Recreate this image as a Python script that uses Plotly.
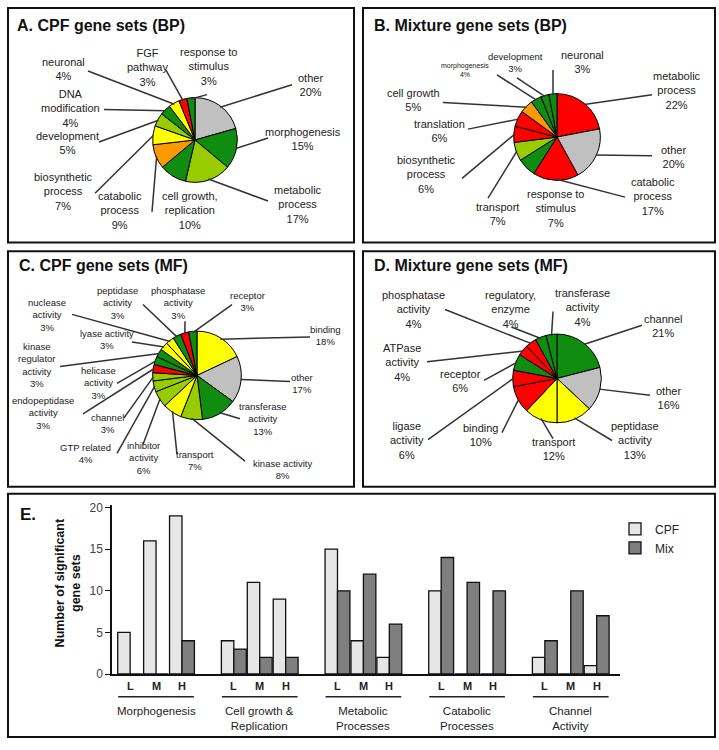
import math
import plotly.graph_objects as go

W, H = 719, 750

# ---------------- data ----------------
GRAY, DKG, YG, YEL, ORG, RED = "#c0c0c0", "#108c10", "#99cc00", "#ffff00", "#ff9900", "#ff0000"

a_labels = ["other", "morphogenesis", "metabolic process", "cell growth, replication",
            "catabolic process", "biosynthetic process", "development", "DNA modification",
            "neuronal", "FGF pathway", "response to stimulus"]
a_values = [20, 15, 17, 10, 9, 7, 5, 4, 4, 3, 3]
a_colors = [GRAY, DKG, YG, DKG, ORG, YEL, YG, DKG, YEL, RED, DKG]

b_labels = ["metabolic process", "other", "catabolic process", "response to stimulus",
            "transport", "biosynthetic process", "translation", "cell growth",
            "morphogenesis", "development", "neuronal"]
b_values = [22, 20, 17, 7, 7, 6, 6, 5, 4, 3, 3]
b_colors = [RED, GRAY, RED, DKG, YG, RED, RED, ORG, DKG, DKG, DKG]

c_labels = ["binding", "other", "transferase activity", "kinase activity", "transport",
            "inhibitor activity", "GTP related", "channel", "endopeptidase activity",
            "helicase activity", "kinase regulator activity", "lyase activity",
            "nuclease activity", "peptidase activity", "phosphatase activity", "receptor"]
c_values = [18, 17, 13, 8, 7, 6, 4, 3, 3, 3, 3, 3, 3, 3, 3, 3]
c_colors = [YEL, GRAY, DKG, YG, YEL, YG, YG, YG, RED, DKG, DKG, YEL, YEL, DKG, RED, DKG]

d_labels = ["channel", "other", "peptidase activity", "transport", "binding",
            "ligase activity", "receptor", "ATPase activity", "phosphatase activity",
            "regulatory, enzyme", "transferase activity"]
d_values = [21, 16, 13, 12, 10, 6, 6, 4, 4, 4, 4]
d_colors = [DKG, GRAY, YEL, YEL, RED, RED, DKG, RED, RED, DKG, DKG]

e_categories = ["Morphogenesis", "Cell growth &<br>Replication", "Metabolic<br>Processes",
                "Catabolic<br>Processes", "Channel<br>Activity"]
e_levels = ["L", "M", "H"]
e_cpf = [5, 16, 19, 4, 11, 9, 15, 4, 2, 10, 0, 0, 2, 0, 1]
e_mix = [0, 0, 4, 3, 2, 2, 10, 12, 6, 14, 11, 10, 4, 10, 7]

# ---------------- layout helpers ----------------
def PX(x):
    return x / W

def PY(y):
    return 1 - y / H

FONT = "Liberation Sans, Arial, sans-serif"

# label layout: (wrapped text, text centre px, line start px or None, font size)
a_layout = [
    ("other", (310, 82), (292, 82), 11),
    ("morphogenesis", (303, 137), (268, 136), 11),
    ("metabolic<br>process", (298, 203), (268, 200), 11),
    ("cell growth,<br>replication", (190, 210), None, 11),
    ("catabolic<br>process", (120, 210), (152, 211), 11),
    ("biosynthetic<br>process", (63, 190), (95, 192), 11),
    ("development", (67, 141), (99, 140), 11),
    ("DNA<br>modification", (70, 106), (104, 107), 11),
    ("neuronal", (63, 66), (88, 68), 11),
    ("FGF<br>pathway", (147, 64), (166, 67), 11),
    ("response to<br>stimulus", (208, 63), (207, 92), 11),
]
b_layout = [
    ("metabolic<br>process", (677, 88), (652, 92), 11),
    ("other", (673, 155), (652, 154), 11),
    ("catabolic<br>process", (653, 195), (625, 196), 11),
    ("response to<br>stimulus", (555, 208), None, 11),
    ("transport", (497, 213), (488, 197), 11),
    ("biosynthetic<br>process", (427, 173), (462, 177), 11),
    ("translation", (440, 129), (468, 127), 11),
    ("cell growth", (413, 97), (443, 100), 11),
    ("morphogenesis", (465, 67), (497, 72), 7),
    ("development", (515, 59), (517, 75), 9.5),
    ("neuronal", (582, 59), (553, 67), 11),
]
c_layout = [
    ("binding", (325, 336), (310, 338), 9.5),
    ("other", (302, 385), (290, 383), 9.5),
    ("transferase<br>activity", (263, 421), (240, 421), 9.5),
    ("kinase activity", (282, 472), (245, 464), 9.5),
    ("transport", (195, 463), (177, 457), 9.5),
    ("inhibitor<br>activity", (143, 461), (143, 447), 9.5),
    ("GTP related", (85, 456), (117, 456), 9.5),
    ("channel", (107, 426), (124, 420), 9.5),
    ("endopeptidase<br>activity", (43, 415), (83, 416), 9.5),
    ("helicase<br>activity", (98, 385), (117, 385), 9.5),
    ("kinase<br>regulator<br>activity", (37, 366), (60, 368), 9.5),
    ("lyase activity", (107, 341), (132, 343), 9.5),
    ("nuclease<br>activity", (47, 316), (72, 315), 9.5),
    ("peptidase<br>activity", (117, 303), (143, 305), 9.5),
    ("phosphatase<br>activity", (178, 303), (185, 322), 9.5),
    ("receptor", (247, 302), (232, 305), 9.5),
]
d_layout = [
    ("channel", (663, 327), (642, 326), 11),
    ("other", (668, 400), (650, 397), 11),
    ("peptidase<br>activity", (635, 443), (612, 443), 11),
    ("transport", (553, 452), (553, 441), 11),
    ("binding", (480, 437), (502, 435), 11),
    ("ligase<br>activity", (407, 443), (428, 442), 11),
    ("receptor", (460, 383), (484, 382), 11),
    ("ATPase<br>activity", (402, 364), (427, 363), 11),
    ("phosphatase<br>activity", (413, 310), (445, 310), 11),
    ("regulatory,<br>enzyme", (510, 310), (512, 328), 11),
    ("transferase<br>activity", (582, 308), (553, 312), 11),
]

panels = [
    # title, title pos, pie centre, radius, labels, values, colors, label layout
    ("A. CPF gene sets (BP)", (15, 22), (195, 138), 43, a_labels, a_values, a_colors, a_layout),
    ("B. Mixture gene sets (BP)", (372, 22), (557, 135), 44, b_labels, b_values, b_colors, b_layout),
    ("C. CPF gene sets (MF)", (17, 265), (197, 377), 45, c_labels, c_values, c_colors, c_layout),
    ("D. Mixture gene sets (MF)", (372, 265), (557, 380), 45, d_labels, d_values, d_colors, d_layout),
]

fig = go.Figure()
shapes = []
annotations = []

# panel frames
for (x0, y0, x1, y1) in [(8, 4, 354, 242), (363, 4, 715, 242), (8, 251, 354, 490),
                         (363, 251, 715, 490), (8, 497, 715, 744)]:
    shapes.append(dict(type="rect", xref="paper", yref="paper",
                       x0=PX(x0), x1=PX(x1), y0=PY(y1), y1=PY(y0),
                       line=dict(color="#111", width=2), fillcolor="rgba(0,0,0,0)"))

for title, (tx, ty), (cx, cy), r, labels, values, colors, lay in panels:
    fig.add_trace(go.Pie(
        labels=labels, values=values, sort=False, direction="clockwise", rotation=0,
        marker=dict(colors=colors, line=dict(color="#000", width=1)),
        textinfo="none", showlegend=False, hoverinfo="label+percent",
        domain=dict(x=[PX(cx - r), PX(cx + r)], y=[PY(cy + r), PY(cy - r)]),
    ))
    annotations.append(dict(text="<b>%s</b>" % title, x=PX(tx), y=PY(ty), xref="paper", yref="paper",
                            xanchor="left", yanchor="middle", showarrow=False,
                            font=dict(family=FONT, size=16, color="#111")))
    total = float(sum(values))
    cum = 0.0
    for i, v in enumerate(values):
        text, (lx, ly), start, fs = lay[i]
        theta = 2 * math.pi * (cum + v / 2.0) / total
        cum += v
        hx = cx + 0.97 * r * math.sin(theta)
        hy = cy - 0.97 * r * math.cos(theta)
        annotations.append(dict(text="%s<br>%d%%" % (text, v), x=PX(lx), y=PY(ly),
                                xref="paper", yref="paper", xanchor="center", yanchor="middle",
                                showarrow=False, align="center",
                                font=dict(family=FONT, size=fs, color="#222")))
        if start is not None:
            shapes.append(dict(type="line", xref="paper", yref="paper",
                               x0=PX(start[0]), y0=PY(start[1]), x1=PX(hx), y1=PY(hy),
                               line=dict(color="#333", width=1.5)))

# ---------------- panel E bar chart ----------------
xpos = [ci * 4 + si for ci in range(len(e_categories)) for si in range(len(e_levels))]
BW = 0.48
fig.add_trace(go.Bar(x=xpos, y=e_cpf, name="CPF", width=BW, offset=-BW,
                     marker=dict(color="#e6e6e6", line=dict(color="#111", width=1.3)),
                     xaxis="x", yaxis="y"))
fig.add_trace(go.Bar(x=xpos, y=e_mix, name="Mix", width=BW, offset=0,
                     marker=dict(color="#7f7f7f", line=dict(color="#111", width=1.3)),
                     xaxis="x", yaxis="y"))

for ci, cat in enumerate(e_categories):
    for si, lev in enumerate(e_levels):
        annotations.append(dict(text="<b>%s</b>" % lev, x=ci * 4 + si, y=PY(692), xref="x", yref="paper",
                                xanchor="center", yanchor="middle", showarrow=False,
                                font=dict(family=FONT, size=11, color="#222")))
    shapes.append(dict(type="line", xref="x", yref="paper", x0=ci * 4 - 0.46, x1=ci * 4 + 2.46,
                       y0=PY(703), y1=PY(703), line=dict(color="#222", width=1.5)))
    annotations.append(dict(text=cat, x=ci * 4 + 1, y=PY(709), xref="x", yref="paper",
                            xanchor="center", yanchor="top", showarrow=False,
                            font=dict(family=FONT, size=11.5, color="#222")))

annotations.append(dict(text="<b>E.</b>", x=PX(18), y=PY(518), xref="paper", yref="paper",
                        xanchor="left", yanchor="middle", showarrow=False,
                        font=dict(family=FONT, size=17, color="#111")))
annotations.append(dict(text="<b>Number of significant<br>gene sets</b>", x=PX(68), y=PY(588),
                        xref="paper", yref="paper", xanchor="center", yanchor="middle",
                        textangle=-90, showarrow=False,
                        font=dict(family=FONT, size=12.5, color="#111")))

fig.update_layout(
    width=W, height=H, margin=dict(l=0, r=0, t=0, b=0),
    paper_bgcolor="white", plot_bgcolor="white",
    barmode="overlay",
    xaxis=dict(domain=[PX(112), PX(620)], range=[-0.7, 18.9], showline=True, linecolor="#111",
               linewidth=1.5, showticklabels=False, ticks="", showgrid=False, zeroline=False,
               fixedrange=True),
    yaxis=dict(domain=[PY(680), PY(508.5)], range=[0, 20.3], showline=True, linecolor="#111",
               linewidth=1.5, tickvals=[0, 5, 10, 15, 20], ticks="outside", ticklen=5,
               tickcolor="#111", tickfont=dict(family=FONT, size=12, color="#444"),
               showgrid=False, zeroline=False, fixedrange=True),
    legend=dict(x=PX(615), y=PY(518), xanchor="left", yanchor="top", bgcolor="rgba(0,0,0,0)",
                font=dict(family=FONT, size=12, color="#222"), itemwidth=30, tracegroupgap=2),
    shapes=shapes, annotations=annotations,
    font=dict(family=FONT),
)

fig.write_html("out.html", config={"displayModeBar": False},
               post_script="document.body.style.margin='0';document.body.style.overflow='hidden';")
